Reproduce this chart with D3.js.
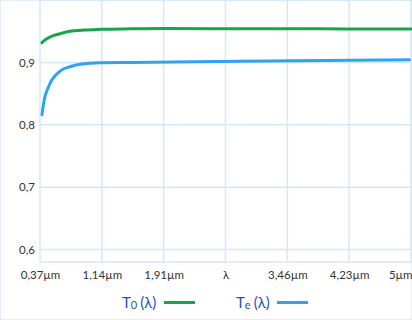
<!DOCTYPE html>
<html>
<head>
<meta charset="utf-8">
<script src="https://cdn.jsdelivr.net/npm/d3@7"></script>
<style>
  body { margin: 0; background: #fff; }
  text { font-family: Lato, "Open Sans", sans-serif; }
</style>
</head>
<body>
<div id="chart"></div>
<script>
const width = 412;
const height = 320;
const margin = { top: 0, right: 1, bottom: 58, left: 40 };

// wavelength in µm
const xTicks = [0.37, 1.142, 1.913, 2.685, 3.457, 4.228, 5];
const xTickLabels = ["0,37µm", "1,14µm", "1,91µm", "λ", "3,46µm", "4,23µm", "5µm"];
const yTicks = [0.6, 0.7, 0.8, 0.9];

const t0Lambda = [0.395, 0.432, 0.495, 0.62, 0.744, 0.93, 1.12, 1.5, 1.91, 2.7, 3.5, 4.2, 5];
const t0Values = [0.9316, 0.936, 0.9407, 0.946, 0.950, 0.952, 0.953, 0.9538, 0.9543, 0.954, 0.9538, 0.9537, 0.9536];

const teLambda = [0.395, 0.41, 0.432, 0.47, 0.52, 0.62, 0.744, 0.87, 1.12, 1.49, 2.87, 4.24, 4.98];
const teValues = [0.816, 0.830, 0.845, 0.859, 0.872, 0.886, 0.893, 0.897, 0.8995, 0.900, 0.9018, 0.9034, 0.9043];

const gridColor = "#d3e8fc";

const svg = d3.select("#chart").append("svg").attr("width", width).attr("height", height);

// outer frame
svg.append("rect")
    .attr("x", 0.5).attr("y", 0.5)
    .attr("width", width - 1).attr("height", height - 1)
    .attr("fill", "none").attr("stroke", "#e2eefb");

const x = d3.scaleLinear().domain([0.37, 5]).range([margin.left, width - margin.right]);
const y = d3.scaleLinear().domain([0.58, 1.0]).range([height - margin.bottom, margin.top]);

// grid
svg.append("g").selectAll("line").data(xTicks).join("line")
    .attr("x1", (d) => x(d)).attr("x2", (d) => x(d))
    .attr("y1", y(1.0)).attr("y2", y(0.58))
    .attr("stroke", gridColor).attr("stroke-width", 1.5);

svg.append("g").selectAll("line").data(yTicks.concat([0.58, 1.0])).join("line")
    .attr("x1", x(0.37)).attr("x2", x(5))
    .attr("y1", (d) => y(d)).attr("y2", (d) => y(d))
    .attr("stroke", gridColor).attr("stroke-width", 1.5);

// axes
const xAxis = d3.axisBottom(x).tickValues(xTicks).tickFormat((d, i) => xTickLabels[i]).tickSize(0).tickPadding(9);
const gx = svg.append("g").attr("transform", `translate(0,${y(0.58)})`).call(xAxis);
gx.select(".domain").remove();
gx.selectAll("text").attr("font-size", "11.5px").attr("fill", "#333")
    .attr("text-anchor", (d, i) => i === xTicks.length - 1 ? "end" : "middle")
    .attr("dx", (d, i) => i === xTicks.length - 1 ? "1px" : 0);

const yAxis = d3.axisLeft(y).tickValues(yTicks).tickFormat((d) => String(d).replace(".", ",")).tickSize(0).tickPadding(5);
const gy = svg.append("g").attr("transform", `translate(${margin.left},0)`).call(yAxis);
gy.select(".domain").remove();
gy.selectAll("text").attr("font-size", "11.5px").attr("fill", "#333");

// lines
const line = d3.line().curve(d3.curveMonotoneX).x((d) => x(d[0])).y((d) => y(d[1]));

svg.append("path")
    .datum(t0Lambda.map((l, i) => [l, t0Values[i]]))
    .attr("d", line).attr("fill", "none")
    .attr("stroke", "#14a64b").attr("stroke-width", 3).attr("stroke-linecap", "round");

svg.append("path")
    .datum(teLambda.map((l, i) => [l, teValues[i]]))
    .attr("d", line).attr("fill", "none")
    .attr("stroke", "#2ea3f2").attr("stroke-width", 3).attr("stroke-linecap", "round");

// legend
const legend = [
    { sub: "0", color: "#14a64b", tx: 122, lx: 164 },
    { sub: "e", color: "#2ea3f2", tx: 236, lx: 277 }
];
legend.forEach((d) => {
    const t = svg.append("text").attr("x", d.tx).attr("y", 308).attr("font-size", "15px").attr("fill", "#1d50c6");
    t.append("tspan").text("T");
    t.append("tspan").attr("font-size", "11px").attr("dy", 1).text(d.sub);
    t.append("tspan").attr("dy", -1).attr("dx", 3).text("(λ)");
    svg.append("line")
        .attr("x1", d.lx).attr("x2", d.lx + 31)
        .attr("y1", 302.5).attr("y2", 302.5)
        .attr("stroke", d.color).attr("stroke-width", 3);
});
</script>
</body>
</html>
